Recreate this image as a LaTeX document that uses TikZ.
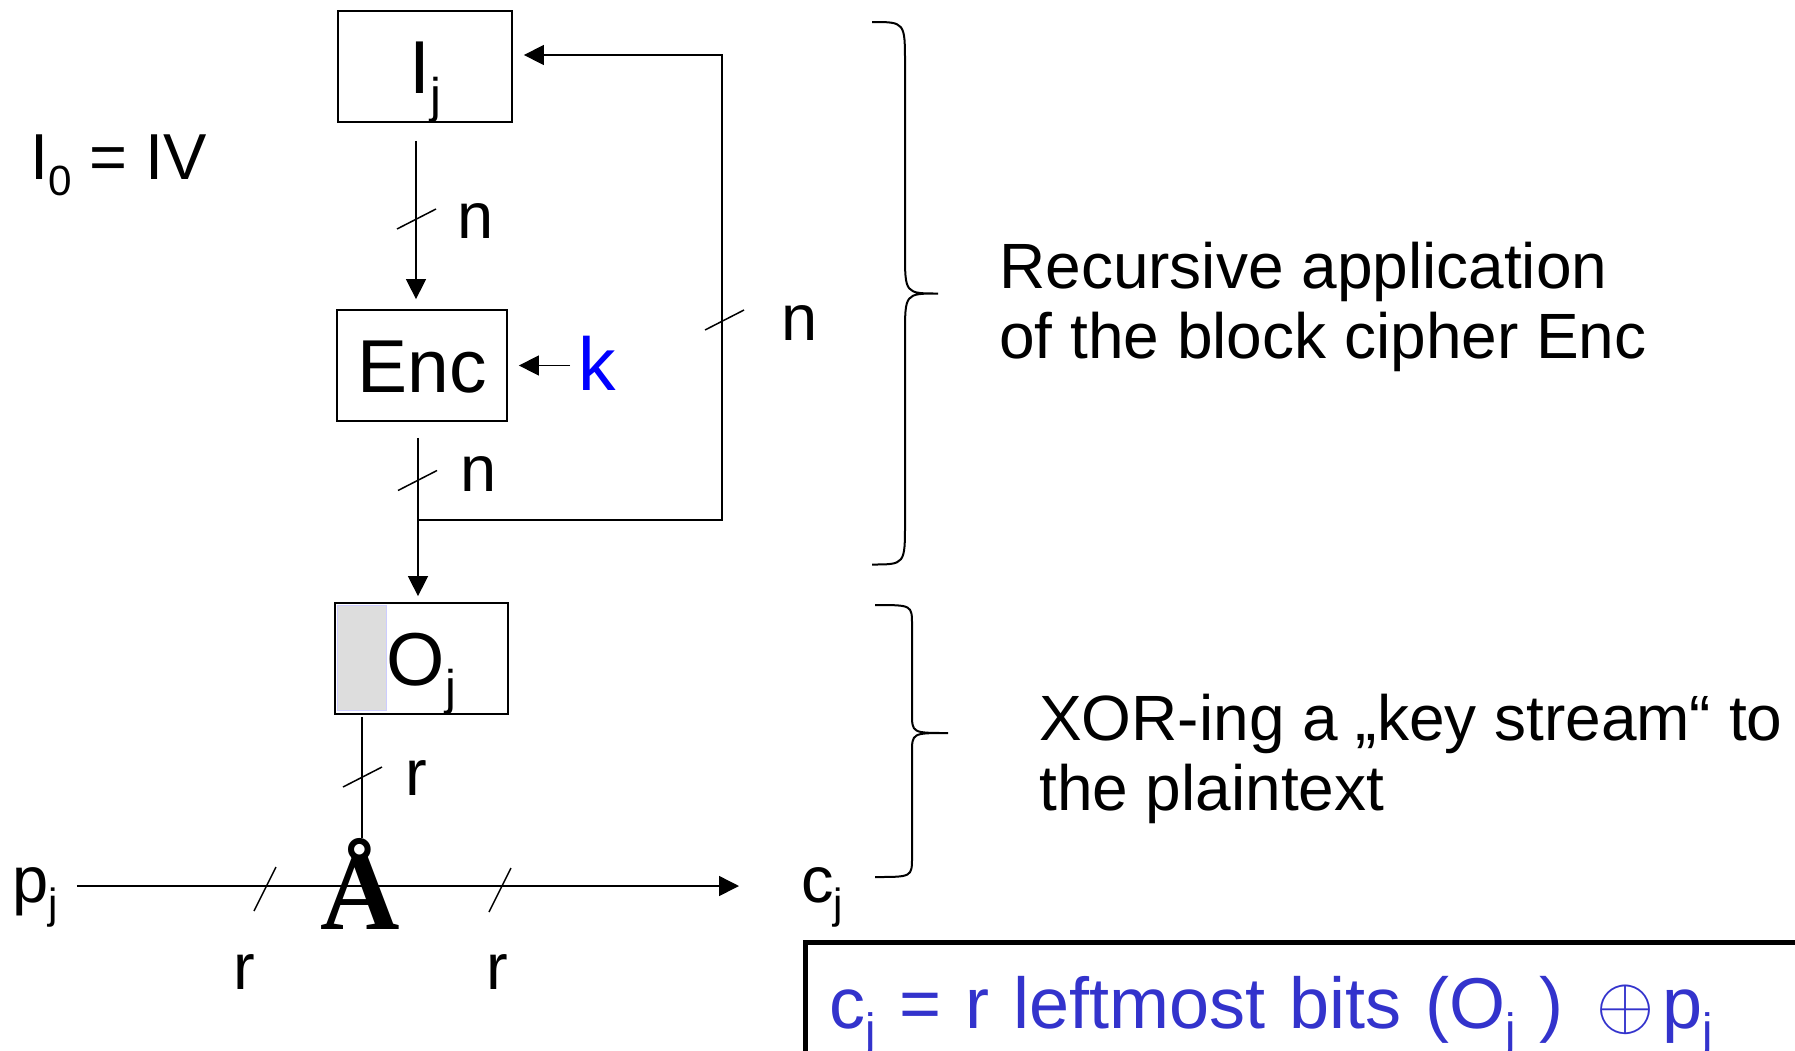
\documentclass[tikz,border=0pt]{standalone}
\usepackage{fontspec}
\usepackage{xcolor}
\usepackage{graphicx}
\usepackage{tikz}
\usetikzlibrary{positioning,calc,arrows.meta}
\setmainfont{Liberation Sans}
\newfontfamily\xorfont{Liberation Serif}
\definecolor{keyblue}{HTML}{0000FF}
\definecolor{formulablue}{HTML}{3333CC}
\definecolor{bitgray}{HTML}{DDDDDD}
\definecolor{bitedge}{HTML}{CCCCFF}
\newcommand{\low}[1]{\raisebox{-0.25em}{\scalebox{0.65}{#1}}}
\newcommand{\sidebrace}[7]{
  \draw[line width=2pt] (#1,#4) .. controls (#2,#4) .. (#2,#4+#7) -- (#2,#5-#7) .. controls (#2,#5) .. (#3,#5)
    .. controls (#2,#5) .. (#2,#5+#7) -- (#2,#6-#7) .. controls (#2,#6) .. (#1,#6);
}

\begin{document}
\begin{tikzpicture}[x=1pt,y=-1pt,
  blockbox/.style={draw, line width=1.8pt, minimum width=#1, minimum height=111pt, inner sep=0pt,
    text height=54pt, text depth=0pt, font=\fontsize{75}{80}\selectfont},
  bitfield/.style={fill=bitgray, draw=bitedge, line width=1pt, minimum width=49pt, minimum height=105pt, inner sep=0pt},
  flow/.style={line width=1.5pt, -{Triangle[length=20pt,width=20pt]}},
  wire/.style={line width=1.5pt},
  tickline/.style={line width=1.5pt},
  lbl/.style={inner sep=0pt, font=\fontsize{65}{70}\selectfont},
  note/.style={inner sep=0pt, align=left, font=\fontsize{64}{69.5}\selectfont},
  formulabox/.style={draw, line width=5pt, inner xsep=24pt, inner ysep=0pt, text width=1050pt, align=left,
    text height=86pt, text depth=40pt, text=formulablue, font=\fontsize{72}{80}\selectfont}]
\useasboundingbox (0,0) rectangle (1795,1050);

% cipher chain
\node[blockbox=174pt] (ij) at (425,66.5) {I\low{j}};
\node[blockbox=170pt] (enc) at (422,365.5) {Enc};
\node[blockbox=173pt] (oj) at (421.5,658.5) {O\low{j}};
\node[bitfield, anchor=north west] (ojleft) at ($(oj.north west)+(3,3)$) {};
\node[lbl, text=keyblue, anchor=base west, font=\fontsize{75}{80}\selectfont] (key) at (578,390) {k};
\node[inner sep=0pt, anchor=base, font=\xorfont\bfseries\fontsize{110}{110}\selectfont] (xor) at (360.5,929) {Å};

\node[lbl, anchor=base west] (init) at (30,179) {I\low{0} = IV};
\node[lbl, anchor=base west] (pj) at (12,902) {p\low{j}};
\node[lbl, anchor=base west] (cj) at (801,902) {c\low{j}};

% bus widths
\node[lbl, anchor=base west] (nin) at (457,238) {n};
\node[lbl, anchor=base west] (nout) at (460,491) {n};
\node[lbl, anchor=base west] (nback) at (781,340) {n};
\node[lbl, anchor=base west] (rkey) at (405,795) {r};
\node[lbl, anchor=base west] (rplain) at (233,989) {r};
\node[lbl, anchor=base west] (rcipher) at (486,989) {r};

% connectors
\draw[flow, shorten <=18pt, shorten >=10pt] ([xshift=-9pt]ij.south) -- ([xshift=-9pt]ij.south |- enc.north);
\draw[flow, shorten <=8pt, shorten >=11pt] (key.west |- enc.east) -- (enc.east);
\draw[flow, shorten <=16pt, shorten >=6pt] ([xshift=-4pt]enc.south) -- ([xshift=-4pt]enc.south |- oj.north);
\coordinate (tap) at (418,520);
\coordinate (turn) at (722,520);
\draw[flow, shorten >=11pt] (tap) -- (turn) -- ([yshift=11.5pt]ij.east -| turn) -- ([yshift=11.5pt]ij.east);
\draw[wire, shorten <=6pt] (ojleft.south) -- (ojleft.south |- xor.north);
\draw[flow, shorten <=19pt, shorten >=62pt] ([yshift=16pt]pj.base east) -- ([yshift=16pt]cj.base west);

% slash marks
\foreach \pos in {(416.5,219),(417.5,480.5),(724.5,320),(362.5,777)}
  \draw[tickline] \pos ++(-19.5,10) -- ++(39,-20);
\foreach \pos in {(265,889),(500,890)}
  \draw[tickline] \pos ++(-11,22) -- ++(22,-44);

% braces and notes
\sidebrace{872}{905}{938}{22}{293.5}{564.5}{42}
\sidebrace{875}{912}{948}{605}{733}{877}{20}
\node[note, anchor=base west] (recnote) at (999,358) {Recursive application\\of the block cipher Enc};
\node[note, anchor=base west] (xornote) at (1039,810) {XOR-ing a „key stream“ to\\the plaintext};

\node[formulabox, anchor=north west] (formula) at (802.5,939.5) {c\low{j} = r leftmost bits (O\low{j} )\hspace{9pt} \scalebox{3}{$\oplus$}\hspace{8pt}p\low{j}};
\end{tikzpicture}
\end{document}
